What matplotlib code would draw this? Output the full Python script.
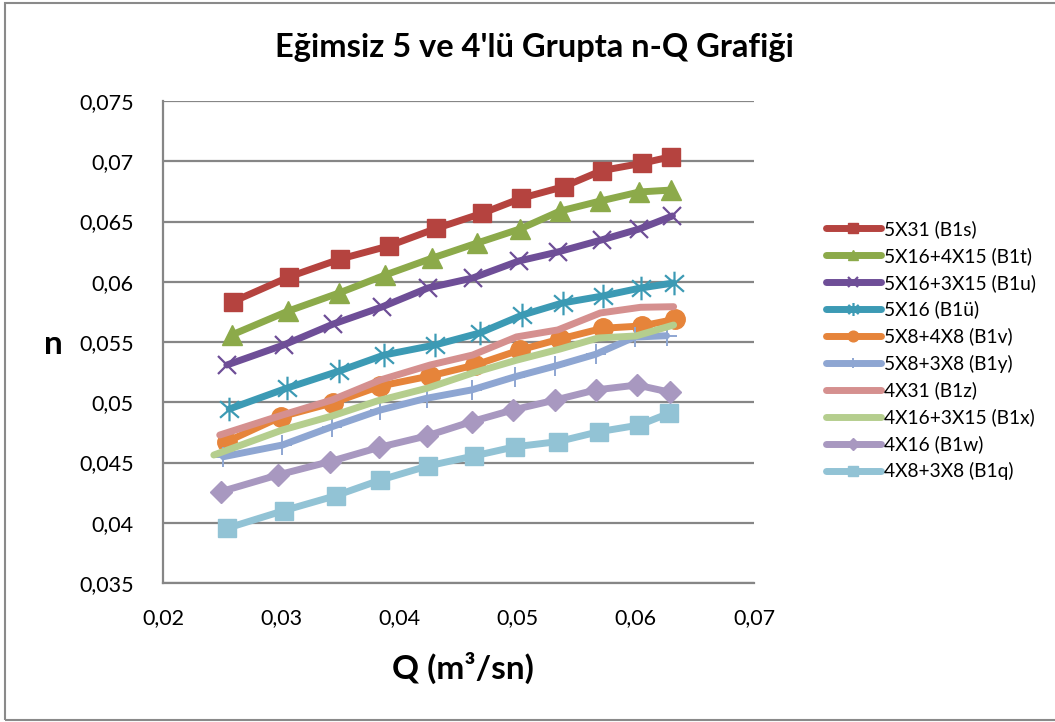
import matplotlib
matplotlib.use("Agg")
import matplotlib.pyplot as plt
from matplotlib.path import Path
from matplotlib.patches import Rectangle
from matplotlib.ticker import FuncFormatter, MultipleLocator

plt.rcParams["font.family"] = ["Lato", "DejaVu Sans"]

# Series names (legend order)
names = [
    "5X31 (B1s)", "5X16+4X15 (B1t)", "5X16+3X15 (B1u)", "5X16 (B1ü)",
    "5X8+4X8 (B1v)", "5X8+3X8 (B1y)", "4X31 (B1z)", "4X16+3X15 (B1x)",
    "4X16 (B1w)", "4X8+3X8 (B1q)",
]

# Discharge Q (m3/s) and Manning n for each configuration
q_b1s = [0.0259, 0.0307, 0.0350, 0.0391, 0.0431, 0.0470, 0.0503, 0.0539, 0.0571, 0.0605, 0.0630]
n_b1s = [0.05834, 0.06042, 0.06189, 0.06297, 0.06442, 0.06568, 0.06693, 0.06789, 0.06922, 0.06983, 0.07038]

q_b1t = [0.0258, 0.0306, 0.0349, 0.0388, 0.0428, 0.0466, 0.0502, 0.0536, 0.0570, 0.0603, 0.0630]
n_b1t = [0.05558, 0.05757, 0.05907, 0.06056, 0.06197, 0.06322, 0.06438, 0.06587, 0.06670, 0.06745, 0.06761]

q_b1u = [0.0254, 0.0302, 0.0344, 0.0385, 0.0424, 0.0462, 0.0501, 0.0534, 0.0571, 0.0603, 0.0631]
n_b1u = [0.05309, 0.05475, 0.05649, 0.05790, 0.05948, 0.06031, 0.06172, 0.06247, 0.06347, 0.06438, 0.06546]

q_b1u2 = [0.0256, 0.0305, 0.0349, 0.0387, 0.0430, 0.0468, 0.0504, 0.0538, 0.0572, 0.0604, 0.0632]
n_b1u2 = [0.04944, 0.05118, 0.05259, 0.05392, 0.05475, 0.05575, 0.05724, 0.05824, 0.05882, 0.05948, 0.05990]

q_b1v = [0.0254, 0.0300, 0.0344, 0.0384, 0.0426, 0.0464, 0.0502, 0.0536, 0.0572, 0.0605, 0.0633]
n_b1v = [0.04673, 0.04880, 0.04996, 0.05135, 0.05218, 0.05309, 0.05434, 0.05525, 0.05614, 0.05633, 0.05688]

q_b1y = [0.0251, 0.0301, 0.0343, 0.0384, 0.0423, 0.0461, 0.0498, 0.0532, 0.0566, 0.0599, 0.0626]
n_b1y = [0.04548, 0.04645, 0.04797, 0.04936, 0.05033, 0.05102, 0.05212, 0.05301, 0.05398, 0.05541, 0.05552]

q_b1z = [0.0248, 0.0301, 0.0343, 0.0384, 0.0426, 0.0462, 0.0499, 0.0534, 0.0570, 0.0604, 0.0632]
n_b1z = [0.04728, 0.04894, 0.05019, 0.05185, 0.05309, 0.05392, 0.05542, 0.05600, 0.05741, 0.05788, 0.05793]

q_b1x = [0.0243, 0.0301, 0.0343, 0.0381, 0.0424, 0.0462, 0.0499, 0.0536, 0.0568, 0.0600, 0.0632]
n_b1x = [0.04562, 0.04770, 0.04886, 0.05010, 0.05118, 0.05243, 0.05349, 0.05442, 0.05533, 0.05550, 0.05641]

q_b1w = [0.0249, 0.0297, 0.0341, 0.0383, 0.0423, 0.0461, 0.0496, 0.0532, 0.0566, 0.0601, 0.0629]
n_b1w = [0.04258, 0.04396, 0.04507, 0.04626, 0.04720, 0.04839, 0.04936, 0.05019, 0.05102, 0.05143, 0.05083]

q_b1q = [0.0254, 0.0302, 0.0346, 0.0384, 0.0424, 0.0463, 0.0498, 0.0534, 0.0569, 0.0603, 0.0628]
n_b1q = [0.03954, 0.04100, 0.04224, 0.04355, 0.04471, 0.04554, 0.04631, 0.04673, 0.04756, 0.04811, 0.04908]

q_series = [q_b1s, q_b1t, q_b1u, q_b1u2, q_b1v, q_b1y, q_b1z, q_b1x, q_b1w, q_b1q]
n_series = [n_b1s, n_b1t, n_b1u, n_b1u2, n_b1v, n_b1y, n_b1z, n_b1x, n_b1w, n_b1q]

colors = ["#B5433F", "#8CAA4A", "#6E4E97", "#3C9AB4", "#E6843A",
          "#8EA6D2", "#D5908F", "#B5CE8E", "#A898C0", "#92C3D5"]

# Excel-style asterisk: a vertical bar combined with an X
star = Path(
    [(0, -1), (0, 1), (-0.8, -0.7), (0.8, 0.7), (-0.8, 0.7), (0.8, -0.7)],
    [Path.MOVETO, Path.LINETO, Path.MOVETO, Path.LINETO, Path.MOVETO, Path.LINETO],
)

styles = [
    dict(marker="s", ms=13),
    dict(marker="^", ms=14),
    dict(marker="x", ms=13, mew=1.6),
    dict(marker=star, ms=17, mew=1.6),
    dict(marker="o", ms=14),
    dict(marker="+", ms=14, mew=1.4),
    dict(marker=None),
    dict(marker=None),
    dict(marker="D", ms=11),
    dict(marker="s", ms=13),
]

fig = plt.figure(figsize=(10.55, 7.22), dpi=100)
fig.patches.append(Rectangle((5 / 1055, 2 / 722), 1.2, 717 / 722, transform=fig.transFigure,
                             fill=False, edgecolor="#8A8A8A", linewidth=1.5))

ax = fig.add_axes([163 / 1055, 1 - 583 / 722, (754 - 163) / 1055, (583 - 101) / 722])

for name, q, n, c, st in zip(names, q_series, n_series, colors, styles):
    ax.plot(q, n, color=c, lw=5, label=name, solid_joinstyle="round",
            solid_capstyle="round", mfc=c, mec=c, zorder=3, **st)

ax.set_xlim(0.02, 0.07)
ax.set_ylim(0.035, 0.075)
ax.xaxis.set_major_locator(MultipleLocator(0.01))
ax.yaxis.set_major_locator(MultipleLocator(0.005))


def fmt_y(v, pos):
    s = "%.3f" % v
    if s.endswith("0"):
        s = s[:-1]
    return s.replace(".", ",")


ax.xaxis.set_major_formatter(FuncFormatter(lambda v, p: ("%.2f" % v).replace(".", ",")))
ax.yaxis.set_major_formatter(FuncFormatter(fmt_y))

ax.grid(axis="y", color="#868686", lw=1.6)
ax.set_axisbelow(True)
for s in ("top", "right"):
    ax.spines[s].set_visible(False)
for s in ("left", "bottom"):
    ax.spines[s].set_color("#868686")
    ax.spines[s].set_linewidth(1.6)
ax.tick_params(axis="both", length=0, labelsize=15.5, colors="black")
ax.tick_params(axis="y", pad=21)
ax.tick_params(axis="x", pad=18)

ax.set_xlabel("Q (m³/sn)", fontsize=24, fontweight="bold", va="center")
ax.xaxis.set_label_coords((463 - 163) / 591, (583 - 668) / 482)
ax.set_ylabel("n", fontsize=24, fontweight="bold", rotation=0, va="center", ha="center")
ax.yaxis.set_label_coords((53 - 163) / 591, (583 - 345) / 482)

fig.text(534 / 1055, 1 - 47 / 722, "Eğimsiz 5 ve 4'lü Grupta n-Q Grafiği",
         ha="center", va="center", fontsize=23.5, fontweight="bold")

leg = ax.legend(loc="upper left", bbox_to_anchor=(826 / 1055, 1 - 220 / 722),
                bbox_transform=fig.transFigure, frameon=False, fontsize=13.8,
                borderpad=0, borderaxespad=0,
                handlelength=2.85, handletextpad=0.15, labelspacing=0.47, markerscale=0.55)

fig.savefig("out.png", dpi=100)
